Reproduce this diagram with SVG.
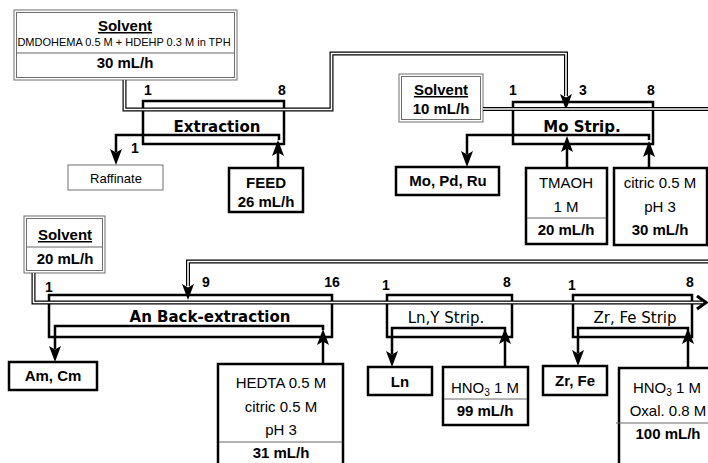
<svg xmlns="http://www.w3.org/2000/svg" xmlns:xlink="http://www.w3.org/1999/xlink" width="708" height="463" viewBox="0 0 708 463">
<style>
text{font-family:"Liberation Sans",Arial,sans-serif;fill:#000}
.b{font-weight:bold}
.c{text-anchor:middle}
.n{font-size:14px;font-weight:bold;text-anchor:middle}
.t15{font-size:15px}
.stg{font-family:"DejaVu Sans",Verdana,sans-serif;font-size:15px;text-anchor:middle}
.gbox{fill:#fff;stroke:#6e6e6e;stroke-width:1}
.kbox{fill:#fff;stroke:#000;stroke-width:2.5}
.stage{fill:none;stroke:#000;stroke-width:2.5}
.div{stroke:#666;stroke-width:1}
.dout{fill:none;stroke:#000;stroke-width:4;stroke-linejoin:miter}
.din{fill:none;stroke:#fff;stroke-width:1.6;stroke-linejoin:miter}
.aq{fill:none;stroke:#000;stroke-width:2.5}
</style>
<defs>
<path id="ah" d="M0,0 L-6,-16 L0,-12.5 L6,-16 Z" fill="#000"/>
</defs>

<g id="solvent30">
<rect class="gbox" x="14" y="10" width="223" height="70"/>
<rect class="gbox" x="16.5" y="12.5" width="218" height="65"/>
<line class="div" x1="16.5" y1="53" x2="234.5" y2="53"/>
<text class="b c t15" x="125" y="31" text-decoration="underline">Solvent</text>
<text class="c" x="124" y="46" font-size="11">DMDOHEMA 0.5 M + HDEHP 0.3 M in TPH</text>
<text class="b c t15" x="125" y="68">30 mL/h</text>
</g>

<g id="extraction">
<rect class="stage" x="143" y="101" width="141" height="43"/>
<text class="stg b" x="217" y="132" font-weight="bold">Extraction</text>
<text class="n" x="148" y="95">1</text>
<text class="n" x="282" y="95">8</text>
<text class="n" x="135" y="153">1</text>
</g>

<g id="raffinate">
<rect class="gbox" x="68" y="165" width="95" height="25"/>
<text class="c" x="116" y="183" font-size="13">Raffinate</text>
</g>

<g id="feed">
<rect class="kbox" x="229" y="168" width="74" height="44"/>
<text class="b c t15" x="266" y="188">FEED</text>
<text class="b c t15" x="266" y="207">26 mL/h</text>
</g>

<g id="solvent10">
<rect class="gbox" x="399" y="74" width="84" height="48"/>
<rect class="gbox" x="401.5" y="76.5" width="79" height="43"/>
<text class="b c t15" x="441" y="95" text-decoration="underline">Solvent</text>
<text class="b c t15" x="441" y="114">10 mL/h</text>
</g>

<g id="mostrip">
<rect class="stage" x="513" y="102" width="140" height="42"/>
<text class="stg" x="582" y="132" font-weight="bold">Mo Strip.</text>
<text class="n" x="513" y="95">1</text>
<text class="n" x="583" y="95">3</text>
<text class="n" x="651" y="95">8</text>
</g>

<g id="mopdru">
<rect class="kbox" x="396" y="167" width="103" height="28"/>
<text class="b c t15" x="448" y="186">Mo, Pd, Ru</text>
</g>

<g id="tmaoh">
<rect class="kbox" x="526" y="168" width="81" height="76"/>
<line class="div" x1="527" y1="218" x2="606" y2="218"/>
<text class="c t15" x="566" y="188">TMAOH</text>
<text class="c t15" x="566" y="212">1 M</text>
<text class="b c t15" x="566" y="235">20 mL/h</text>
</g>

<g id="citric">
<rect class="kbox" x="614" y="168" width="93" height="77"/>
<text class="c t15" x="660" y="188">citric 0.5 M</text>
<text class="c t15" x="660" y="212">pH 3</text>
<text class="b c t15" x="660" y="235">30 mL/h</text>
</g>

<g id="solvent20">
<rect class="gbox" x="24" y="216" width="81" height="57"/>
<rect class="gbox" x="26.5" y="218.5" width="76" height="52"/>
<line class="div" x1="26.5" y1="247" x2="102.5" y2="247"/>
<text class="b c t15" x="65" y="240" text-decoration="underline">Solvent</text>
<text class="b c t15" x="65" y="264">20 mL/h</text>
</g>

<g id="anback">
<rect class="stage" x="49" y="295" width="283" height="42"/>
<text class="stg" x="210" y="322" font-weight="bold">An Back-extraction</text>
<text class="n" x="49" y="292">1</text>
<text class="n" x="206" y="287">9</text>
<text class="n" x="332" y="287">16</text>
</g>

<g id="amcm">
<rect class="kbox" x="9" y="362" width="88" height="28"/>
<text class="b c t15" x="53" y="381">Am, Cm</text>
</g>

<g id="hedta">
<rect class="kbox" x="218" y="364" width="125" height="110"/>
<line class="div" x1="219" y1="442" x2="342" y2="442"/>
<text class="c t15" x="281" y="388">HEDTA 0.5 M</text>
<text class="c t15" x="281" y="412">citric 0.5 M</text>
<text class="c t15" x="281" y="435">pH 3</text>
<text class="b c t15" x="281" y="458">31 mL/h</text>
</g>

<g id="lnystrip">
<rect class="stage" x="387" y="295" width="125" height="42"/>
<text class="stg" x="446" y="323">Ln,Y Strip.</text>
<text class="n" x="386" y="290">1</text>
<text class="n" x="507" y="287">8</text>
</g>

<g id="ln">
<rect class="kbox" x="368" y="367" width="64" height="28"/>
<text class="b c t15" x="400" y="387">Ln</text>
</g>

<g id="hno3a">
<rect class="kbox" x="443" y="367" width="85" height="58"/>
<line class="div" x1="444" y1="399" x2="527" y2="399"/>
<text class="c t15" x="485" y="393">HNO<tspan font-size="10" dy="3">3</tspan><tspan dy="-3"> 1 M</tspan></text>
<text class="b c t15" x="485" y="416">99 mL/h</text>
</g>

<g id="zrfestrip">
<rect class="stage" x="573" y="295" width="119" height="42"/>
<text class="stg" x="635" y="323">Zr, Fe Strip</text>
<text class="n" x="572" y="290">1</text>
<text class="n" x="690" y="287">8</text>
</g>

<g id="zrfe">
<rect class="kbox" x="543" y="366" width="64" height="29"/>
<text class="b c t15" x="575" y="386">Zr, Fe</text>
</g>

<g id="hno3b">
<rect class="kbox" x="619" y="368" width="93" height="100"/>
<line class="div" x1="616" y1="423" x2="708" y2="423"/>
<text class="c t15" x="667" y="393">HNO<tspan font-size="10" dy="3">3</tspan><tspan dy="-3"> 1 M</tspan></text>
<text class="c t15" x="668" y="416">Oxal. 0.8 M</text>
<text class="b c t15" x="668" y="439">100 mL/h</text>
</g>

<g id="connectors">
<!-- solvent (double) lines -->
<path class="dout" d="M124.5,80 V109.5 H331.5 V53.5 H566 V96"/>
<path class="din" d="M124.5,80 V109.5 H331.5 V53.5 H566 V96"/>
<use xlink:href="#ah" href="#ah" transform="translate(566,110)"/>
<path class="dout" d="M483,109 H708"/>
<path class="din" d="M483,109 H708"/>
<path class="dout" d="M708,261.5 H188 V286"/>
<path class="din" d="M708,261.5 H188 V286"/>
<use xlink:href="#ah" href="#ah" transform="translate(188,300)"/>
<path class="dout" d="M33.5,273 V302.5 H702"/>
<path class="din" d="M33.5,273 V302.5 H702"/>
<polyline points="697,296 706,302.5 697,309" fill="none" stroke="#000" stroke-width="3"/>

<!-- aqueous lines -->
<path class="aq" d="M279,140 V135 H116 V152"/>
<use xlink:href="#ah" href="#ah" transform="translate(116,165)"/>
<path class="aq" d="M278,168 V150"/>
<use xlink:href="#ah" href="#ah" transform="translate(278,140) rotate(180)"/>

<path class="aq" d="M649,140 V135 H467 V154"/>
<use xlink:href="#ah" href="#ah" transform="translate(467,167)"/>
<path class="aq" d="M567,168 V148"/>
<use xlink:href="#ah" href="#ah" transform="translate(567,136) rotate(180)"/>
<path class="aq" d="M649,168 V152"/>
<use xlink:href="#ah" href="#ah" transform="translate(649,141) rotate(180)"/>

<path class="aq" d="M323,330 V326 H55 V349"/>
<use xlink:href="#ah" href="#ah" transform="translate(55,362)"/>
<path class="aq" d="M323,364 V340"/>
<use xlink:href="#ah" href="#ah" transform="translate(323,329) rotate(180)"/>

<path class="aq" d="M505,331 V328 H392 V354"/>
<use xlink:href="#ah" href="#ah" transform="translate(392,367)"/>
<path class="aq" d="M505,367 V340"/>
<use xlink:href="#ah" href="#ah" transform="translate(505,328) rotate(180)"/>

<path class="aq" d="M688,331 V328 H578 V353"/>
<use xlink:href="#ah" href="#ah" transform="translate(578,366)"/>
<path class="aq" d="M688,368 V340"/>
<use xlink:href="#ah" href="#ah" transform="translate(688,328) rotate(180)"/>
</g>
</svg>
